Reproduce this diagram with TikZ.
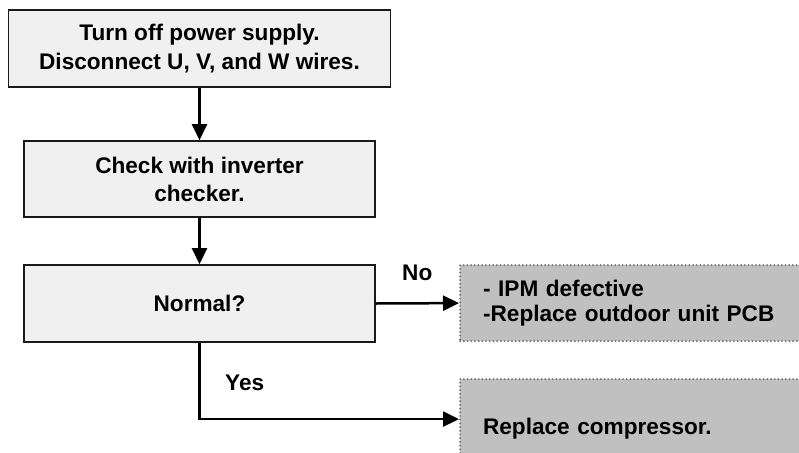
\documentclass[tikz,border=0pt]{standalone}
\usepackage{fontspec}
\setmainfont{Liberation Sans}
\usetikzlibrary{arrows.meta,positioning}

\definecolor{boxfill}{HTML}{F0F0F0}
\definecolor{resfill}{HTML}{C0C0C0}
\definecolor{dotgray}{HTML}{777777}

\begin{document}
\begin{tikzpicture}[x=1pt,y=-1pt,
  every node/.style={font=\bfseries\fontsize{22.6}{28}\selectfont},
  stepbox/.style={draw=black!90,line width=1.6pt,fill=boxfill,minimum width=351pt,
    minimum height=77pt,align=center,inner sep=0pt},
  resbox/.style={draw=dotgray,line width=2.2pt,dash pattern=on 0pt off 3.7pt,line cap=round,
    fill=resfill,anchor=north west,text width=334pt,align=left,inner xsep=23pt,inner ysep=0pt},
  arr/.style={line width=2.5pt,-{Triangle[length=16pt,width=15pt]}},
  lbl/.style={anchor=base west,inner sep=0pt}]
\useasboundingbox (0,0) rectangle (799,452);
\clip (0,0) rectangle (799,452);

% steps
\node[stepbox,minimum width=382pt,font=\bfseries\fontsize{22.6}{29}\selectfont] (off) at (199.5,48.5)
  {Turn off power supply.\\Disconnect U, V, and W wires.};
\node[stepbox,minimum height=76pt] (check) at (199.5,179) {Check with inverter\\checker.};
\node[stepbox] (normal) at (199.5,303.5) {Normal?};

% results
\node[resbox,minimum height=76pt,font=\bfseries\fontsize{22.6}{25.5}\selectfont] (ipm) at (459,264)
  {- IPM defective\\-Replace outdoor unit PCB};
\node[resbox,minimum height=80pt,text height=30pt,text depth=0pt] (comp) at (459,378)
  {Replace compressor.};

% flow
\draw[arr] (off) -- (check);
\draw[arr] (check) -- (normal);
\draw[arr] (normal.east) -- (ipm.west);
\draw[arr] (normal.south) |- (comp.west);

\node[lbl] (nolbl) at (402,280) {No};
\node[lbl] (yeslbl) at (225,390) {Yes};
\end{tikzpicture}
\end{document}
